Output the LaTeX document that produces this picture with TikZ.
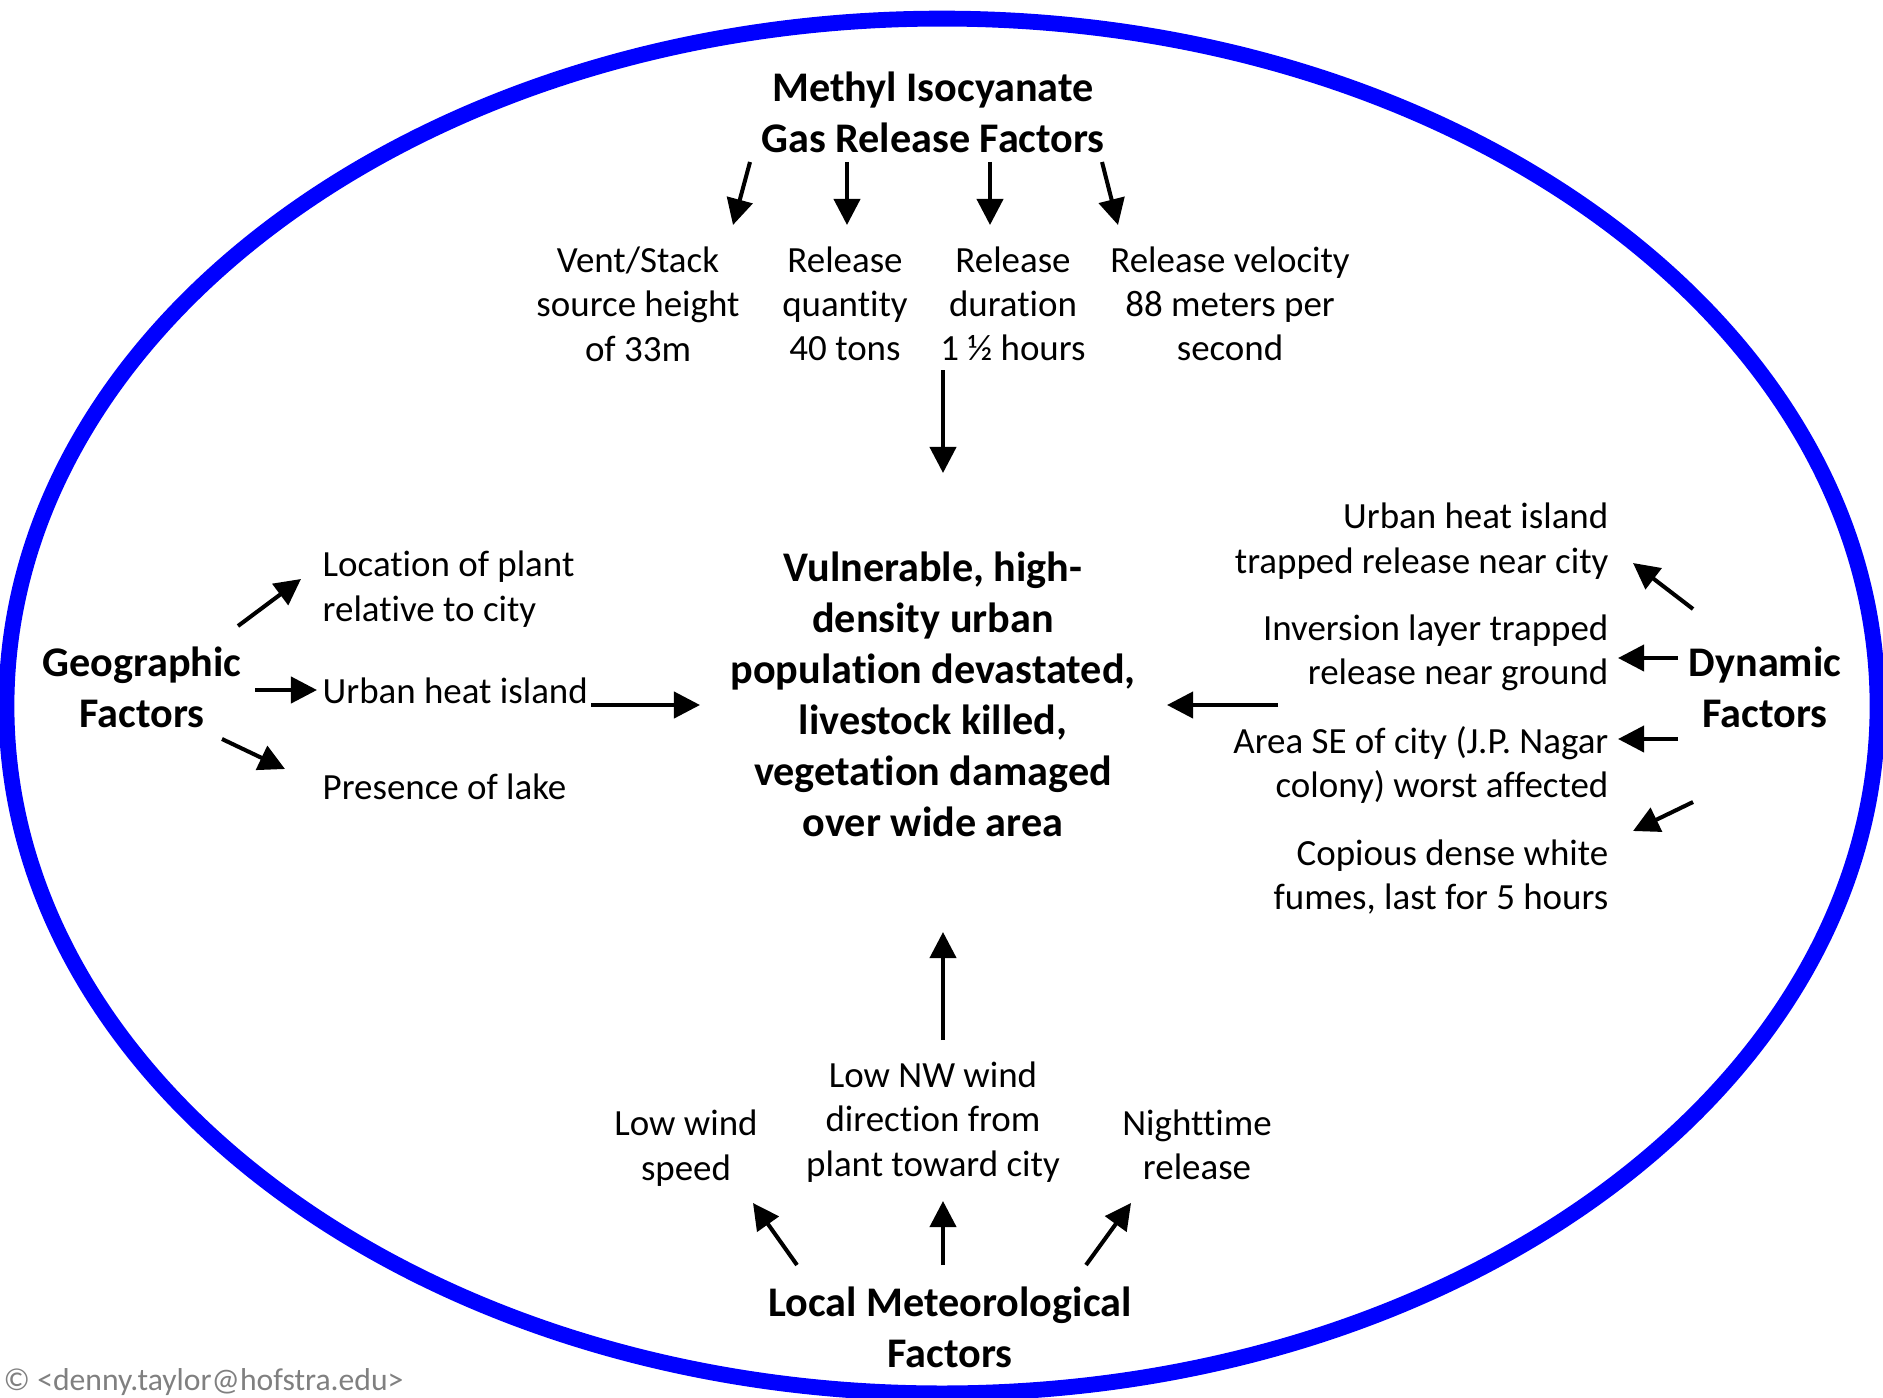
\documentclass[tikz,border=0pt]{standalone}
\usepackage{fontspec}
\setmainfont{Carlito}[Ligatures=NoCommon]
\usetikzlibrary{arrows.meta}

\tikzset{
  arr/.style={-{Triangle[length=7.4pt,width=7.4pt]}, line width=1.15pt},
  item/.style={align=center, inner sep=0pt, font=\fontsize{10.5}{12.6}\selectfont},
  head/.style={align=center, inner sep=0pt, font=\bfseries\fontsize{12}{14.5}\selectfont},
}

\begin{document}
\begin{tikzpicture}[x=0.01cm,y=-0.01cm]
        \useasboundingbox (0,0) rectangle (1883,1397);

        % the outer ellipse
        \draw[blue, line width=4.5pt] (942,706) ellipse [x radius=9.35cm, y radius=6.87cm];

        % gas release factors
        \node[head] (mic) at (933,112) {Methyl Isocyanate\\Gas Release Factors};
        \node[item] (vent) at (638,304) {Vent/Stack\\source height\\of 33m};
        \node[item] (qty) at (845,304) {Release\\quantity\\40 tons};
        \node[item] (dur) at (1013,304) {Release\\duration\\1 ½ hours};
        \node[item] (vel) at (1230,304) {Release velocity\\88 meters per\\second};

        % the result in the middle
        \node[head] (pop) at (933,694) {Vulnerable, high-\\density urban\\population devastated,\\livestock killed,\\vegetation damaged\\over wide area};

        % geographic factors
        \node[head] (geo) at (142,687) {Geographic\\Factors};
        \node[item, anchor=west, align=left] (loc) at (322,589) {Location of plant\\relative to city};
        \node[item, anchor=west] (uhi) at (322,691) {Urban heat island};
        \node[item, anchor=west] (lake) at (322,787) {Presence of lake};

        % dynamic factors
        \node[head] (dyn) at (1765,687) {Dynamic\\Factors};
        \node[item, anchor=east, align=right] (heat) at (1609,541) {Urban heat island\\trapped release near city};
        \node[item, anchor=east, align=right] (inv) at (1609,653) {Inversion layer trapped\\release near ground};
        \node[item, anchor=east, align=right] (area) at (1609,765) {Area SE of city (J.P. Nagar\\colony) worst affected};
        \node[item, anchor=east, align=right] (fumes) at (1609,877) {Copious dense white\\fumes, last for 5 hours};

        % local meteorological factors
        \node[head] (lmf) at (950,1327) {Local Meteorological\\Factors};
        \node[item] (lws) at (686,1148) {Low wind\\speed};
        \node[item] (nw) at (933,1122) {Low NW wind\\direction from\\plant toward city};
        \node[item] (night) at (1197,1145) {Nighttime\\release};

        \node[inner sep=0pt, anchor=base west, text=gray, font=\fontsize{9}{10}\selectfont] (copy) at (3,1390) {© <denny.taylor@hofstra.edu>};

        % arrows from the gas release factors
        \draw[arr] ([shift={(-183,50)}]mic.center) -- ([shift={(95,-79)}]vent.center);
        \draw[arr] ([shift={(-86,50)}]mic.center) -- ([shift={(2,-79)}]qty.center);
        \draw[arr] ([shift={(57,50)}]mic.center) -- ([shift={(-23,-79)}]dur.center);
        \draw[arr] ([shift={(169,50)}]mic.center) -- ([shift={(-112,-79)}]vel.center);
        \draw[arr] ([shift={(-70,66)}]dur.center) -- ([shift={(10,-221)}]pop.center);

        % arrows into the middle
        \draw[arr] ([shift={(269,14)}]uhi.west) -- ([shift={(-233,11)}]pop.center);
        \draw[arr] ([shift={(-487,18)}]dyn.center) -- ([shift={(234,11)}]pop.center);
        \draw[arr] ([shift={(10,-82)}]nw.center) -- ([shift={(10,238)}]pop.center);

        % geographic arrows
        \draw[arr] ([shift={(96,-61)}]geo.center) -- ([shift={(-21,-10)}]loc.west);
        \draw[arr] ([shift={(113,3)}]geo.center) -- ([shift={(-5,-1)}]uhi.west);
        \draw[arr] ([shift={(80,52)}]geo.center) -- ([shift={(-37,-18)}]lake.west);

        % dynamic arrows
        \draw[arr] ([shift={(-72,-78)}]dyn.center) -- ([shift={(24,22)}]heat.east);
        \draw[arr] ([shift={(-87,-29)}]dyn.center) -- ([shift={(9,5)}]inv.east);
        \draw[arr] ([shift={(-87,52)}]dyn.center) -- ([shift={(9,-26)}]area.east);
        \draw[arr] ([shift={(-72,115)}]dyn.center) -- ([shift={(24,-46)}]fumes.east);

        % meteorological arrows
        \draw[arr] ([shift={(-153,-62)}]lmf.center) -- ([shift={(67,55)}]lws.center);
        \draw[arr] ([shift={(-7,-62)}]lmf.center) -- ([shift={(10,79)}]nw.center);
        \draw[arr] ([shift={(136,-62)}]lmf.center) -- ([shift={(-66,58)}]night.center);
\end{tikzpicture}
\end{document}
